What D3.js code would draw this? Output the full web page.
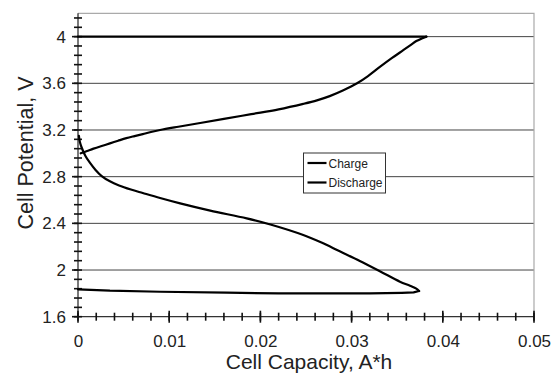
<!DOCTYPE html>
<meta charset="utf-8">
<script src="https://d3js.org/d3.v7.min.js"></script>
<style>
  body { margin: 0; background: #fff; }
  text { font-family: "Liberation Sans", Arial, sans-serif; fill: #222; }
</style>
<div id="cell_chart"></div>
<script>
    // data: capacity (A*h) and potential (V), in drawing order
    var chargeCap = [0.0003, 0.0010, 0.0017, 0.0026, 0.0035, 0.0044, 0.0053, 0.0062, 0.0071, 0.0080, 0.0090,
        0.0110, 0.0134, 0.0160, 0.0190, 0.0220, 0.0247, 0.0262, 0.0276, 0.0291, 0.0306,
        0.0318, 0.0331, 0.0344, 0.0357, 0.0365, 0.0371, 0.0377, 0.0382, 0.0300, 0.0200, 0.0100, 0.0000];
    var chargeV = [3.00, 3.02, 3.04, 3.063, 3.085, 3.108, 3.13, 3.148, 3.165, 3.183, 3.20,
        3.228, 3.26, 3.295, 3.336, 3.377, 3.424, 3.454, 3.49, 3.54, 3.60,
        3.662, 3.74, 3.815, 3.886, 3.93, 3.962, 3.985, 4.00, 4.00, 4.00, 4.00, 4.00];

    var dischargeCap = [0.0001, 0.0002, 0.0004, 0.0008, 0.0013, 0.0019, 0.0026, 0.0035, 0.0045, 0.0058, 0.0071, 0.0090,
        0.0112, 0.0145, 0.0185, 0.0211, 0.0247, 0.0267, 0.0287, 0.0309, 0.0331, 0.0353, 0.0364,
        0.0371, 0.0374, 0.0368, 0.0355, 0.0320, 0.0280, 0.0220, 0.0163, 0.0090, 0.0035, 0.0000];
    var dischargeV = [3.15, 3.10, 3.05, 2.98, 2.92, 2.86, 2.805, 2.76, 2.725, 2.69, 2.66, 2.617,
        2.571, 2.509, 2.443, 2.39, 2.30, 2.235, 2.16, 2.078, 1.99, 1.90, 1.865,
        1.84, 1.82, 1.808, 1.805, 1.80, 1.80, 1.80, 1.806, 1.814, 1.823, 1.835];

    var seriesNames = ["Charge", "Discharge"];
    var xTicks = [0, 0.01, 0.02, 0.03, 0.04, 0.05];
    var yTicks = [1.6, 2, 2.4, 2.8, 3.2, 3.6, 4];

    // set the dimensions and margins of the graph
    var margin = { top: 13.3, right: 21, bottom: 57.3, left: 78 },
        width = 555 - margin.left - margin.right,
        height = 374 - margin.top - margin.bottom;

    var svg = d3.select("#cell_chart")
        .append("svg")
        .attr("width", 555)
        .attr("height", 374)
        .append("g")
        .attr("transform", "translate(" + margin.left + "," + margin.top + ")");

    var x = d3.scaleLinear().domain([0, 0.05]).range([0, width]);
    var y = d3.scaleLinear().domain([1.6, 4.2]).range([height, 0]);

    // gridlines
    svg.selectAll(".grid")
        .data(yTicks.slice(1))
        .enter()
        .append("line")
        .attr("class", "grid")
        .attr("x1", 0)
        .attr("x2", width)
        .attr("y1", d => y(d))
        .attr("y2", d => y(d))
        .attr("stroke", "#444")
        .attr("stroke-width", 1);

    // top and right border
    svg.append("path")
        .attr("d", "M0," + y(4.2) + "H" + width + "V" + height)
        .attr("fill", "none")
        .attr("stroke", "#aaa")
        .attr("stroke-width", 1.2);

    // tick labels
    svg.append("g")
        .attr("transform", "translate(0," + height + ")")
        .call(d3.axisBottom(x).tickValues(xTicks).tickSize(0).tickPadding(18)
            .tickFormat(d => d === 0 ? "0" : d3.format(".2f")(d)))
        .call(g => g.select(".domain").remove())
        .selectAll("text").style("font-size", "17px").attr("fill", "#222")
        .style("font-family", "'Liberation Sans', Arial, sans-serif");

    svg.append("g")
        .call(d3.axisLeft(y).tickValues(yTicks).tickSize(0).tickPadding(12)
            .tickFormat(d => String(d)))
        .call(g => g.select(".domain").remove())
        .selectAll("text").style("font-size", "17px").attr("fill", "#222")
        .style("font-family", "'Liberation Sans', Arial, sans-serif");

    // axis lines
    svg.append("path")
        .attr("d", "M0," + y(4.2) + "V" + height + "H" + width)
        .attr("fill", "none")
        .attr("stroke", "#333")
        .attr("stroke-width", 1.3);

    // minor + major ticks crossing the axes
    var xMinor = d3.range(0, 51, 2).map(d => d / 1000);
    var yMinor = d3.range(0, 33).map(d => 1.6 + d * 0.08);

    var ticks = svg.append("g")
        .attr("stroke", "#111")
        .attr("stroke-width", 1.6);
    ticks.selectAll(".xminor")
        .data(xMinor)
        .enter()
        .append("line")
        .attr("class", "xminor")
        .attr("x1", d => x(d)).attr("x2", d => x(d))
        .attr("y1", height - 4).attr("y2", height + 4);
    ticks.selectAll(".xmajor")
        .data(xTicks)
        .enter()
        .append("line")
        .attr("class", "xmajor")
        .attr("x1", d => x(d)).attr("x2", d => x(d))
        .attr("y1", height - 6).attr("y2", height + 6);
    ticks.selectAll(".yminor")
        .data(yMinor)
        .enter()
        .append("line")
        .attr("class", "yminor")
        .attr("x1", -4).attr("x2", 4)
        .attr("y1", d => y(d)).attr("y2", d => y(d));
    ticks.selectAll(".ymajor")
        .data(yTicks)
        .enter()
        .append("line")
        .attr("class", "ymajor")
        .attr("x1", -6).attr("x2", 0)
        .attr("y1", d => y(d)).attr("y2", d => y(d));

    // the two curves: smooth up to the furthest capacity, then a straight run back
    var smooth = d3.line()
        .x(d => x(d[0]))
        .y(d => y(d[1]))
        .curve(d3.curveCatmullRom.alpha(0.5));
    var straight = d3.line()
        .x(d => x(d[0]))
        .y(d => y(d[1]));

    var charge = chargeCap.map((c, i) => [c, chargeV[i]]);
    var discharge = dischargeCap.map((c, i) => [c, dischargeV[i]]);

    [charge, discharge].forEach(function (s) {
        var k = d3.maxIndex(s, d => d[0]);
        [smooth(s.slice(0, k + 1)), straight(s.slice(k))].forEach(function (dStr) {
            svg.append("path")
                .attr("d", dStr)
                .attr("fill", "none")
                .attr("stroke", "#000")
                .attr("stroke-width", 2.2)
                .attr("stroke-linejoin", "round")
                .attr("stroke-linecap", "round");
        });
    });

    // legend
    var lg = svg.append("g").attr("transform", "translate(" + (303.5 - margin.left) + "," + (153 - margin.top) + ")");
    lg.append("rect")
        .attr("width", 82)
        .attr("height", 40)
        .attr("fill", "#fff")
        .attr("stroke", "#333")
        .attr("stroke-width", 1);
    seriesNames.forEach(function (name, i) {
        lg.append("line")
            .attr("x1", 4).attr("x2", 23)
            .attr("y1", 10 + i * 19.5).attr("y2", 10 + i * 19.5)
            .attr("stroke", "#000")
            .attr("stroke-width", 2.2);
        lg.append("text")
            .attr("x", 25)
            .attr("y", 14.5 + i * 19.5)
            .style("font-size", "12px")
            .text(name);
    });

    // axis titles
    svg.append("text")
        .attr("x", (225 + 393) / 2 - margin.left)
        .attr("y", 369.5 - margin.top)
        .attr("text-anchor", "middle")
        .style("font-size", "21px")
        .text("Cell Capacity, A*h");

    svg.append("text")
        .attr("transform", "translate(" + (33 - margin.left) + "," + (153 - margin.top) + ") rotate(-90)")
        .attr("text-anchor", "middle")
        .style("font-size", "21.5px")
        .text("Cell Potential, V");
</script>
